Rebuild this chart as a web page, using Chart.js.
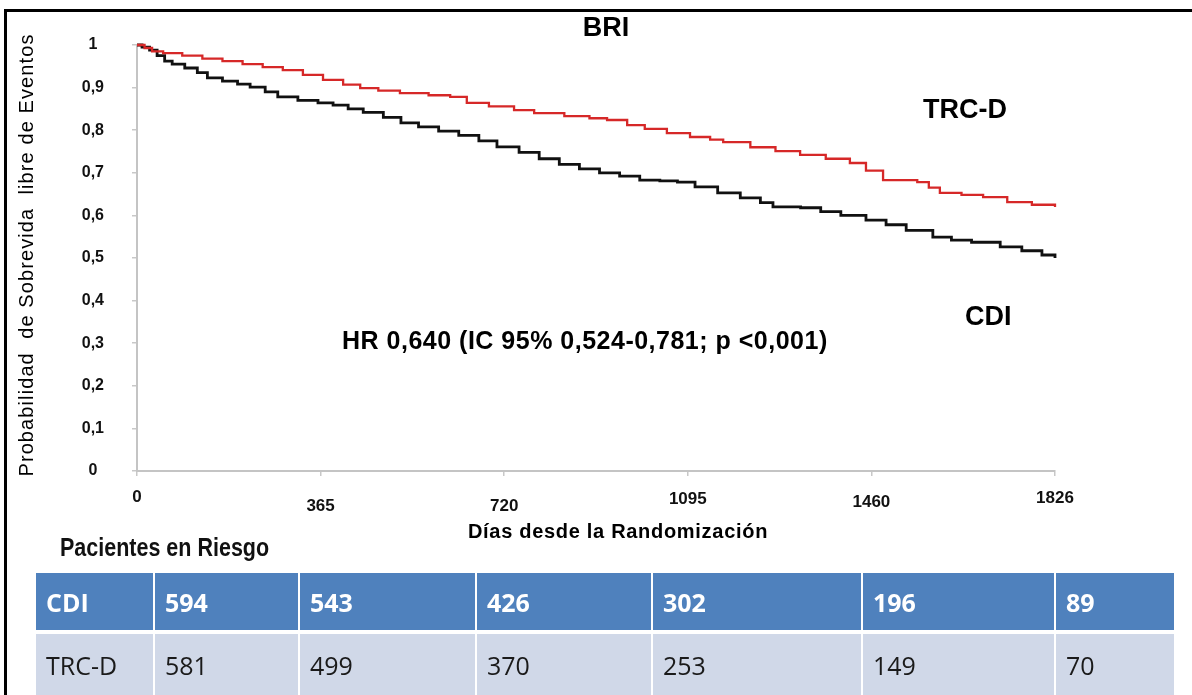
<!DOCTYPE html>
<html>
<head>
<meta charset="utf-8">
<script src="https://cdn.jsdelivr.net/npm/chart.js@4.4.1/dist/chart.umd.min.js"></script>
<style>
  body { margin: 0; background: #fff; }
  #wrap { position: relative; width: 1192px; height: 695px; overflow: hidden; background: #fff; }
  #frame { position: absolute; left: 4px; top: 9px; right: -10px; bottom: -10px;
           border-left: 3px solid #000; border-top: 3px solid #000; }
  #chart { position: absolute; left: 0; top: 0; }
  #riskTitle { position: absolute; left: 60px; top: 533px; font: bold 25px "Liberation Sans", Arial, sans-serif;
               color: #111; transform: scaleX(0.86); transform-origin: left center; white-space: nowrap; }
  #risk { position: absolute; left: 36px; top: 573px; border-collapse: separate; border-spacing: 0;
          font-family: "Open Sans", "Noto Sans", sans-serif; font-size: 25px; table-layout: fixed; }
  #risk td { padding: 0 0 0 10px; border-right: 2px solid #fff; white-space: nowrap; }
  #risk td:last-child { border-right: none; }
  #risk tr.head td { background: #4f81bd; color: #fff; font-weight: bold; height: 57px; border-bottom: 4px solid #fff; }
  #risk tr.body td { background: #d0d8e8; color: #1a1a1a; height: 62px; }
</style>
</head>
<body>
<div id="wrap">
  <canvas id="chart" width="1192" height="560"></canvas>
  <div id="frame"></div>
  <div id="riskTitle">Pacientes en Riesgo</div>
  <table id="risk">
    <colgroup>
      <col style="width:119px"><col style="width:145px"><col style="width:177px"><col style="width:176px">
      <col style="width:210px"><col style="width:193px"><col style="width:118px">
    </colgroup>
    <tbody id="riskBody"></tbody>
  </table>
</div>
<script>
// ====== DATA ======
// Kaplan-Meier, CDI (negro)
const cdiDays = [0, 10, 25, 40, 55, 70, 95, 120, 140, 170, 200, 225, 255, 280, 320, 360, 390, 420, 450, 490,
  525, 560, 600, 640, 680, 716, 760, 800, 840, 880, 920, 960, 1000, 1040, 1075, 1110, 1155, 1200, 1240, 1265,
  1320, 1360, 1400, 1450, 1490, 1530, 1583, 1620, 1660, 1717, 1760, 1800, 1826];
const cdiSurv = [1.000, 0.995, 0.988, 0.975, 0.962, 0.955, 0.946, 0.935, 0.923, 0.915, 0.908, 0.901, 0.890, 0.878, 0.870, 0.864, 0.859, 0.850, 0.842, 0.830,
  0.817, 0.808, 0.798, 0.788, 0.775, 0.761, 0.748, 0.733, 0.720, 0.709, 0.700, 0.692, 0.683, 0.681, 0.678, 0.667, 0.653, 0.641, 0.630, 0.620,
  0.618, 0.609, 0.600, 0.589, 0.578, 0.565, 0.549, 0.542, 0.537, 0.526, 0.517, 0.507, 0.500];

// Kaplan-Meier, TRC-D (rojo)
const trcDays = [0, 15, 30, 52, 90, 130, 170, 210, 250, 290, 330, 370, 410, 444, 480, 523, 580, 623, 656, 700,
  750, 790, 850, 900, 935, 975, 1010, 1054, 1100, 1140, 1166, 1220, 1270, 1319, 1370, 1418, 1450, 1484, 1552,
  1575, 1597, 1640, 1683, 1731, 1780, 1826];
const trcSurv = [1.000, 0.993, 0.985, 0.981, 0.975, 0.968, 0.962, 0.955, 0.948, 0.941, 0.930, 0.918, 0.907, 0.899, 0.893, 0.887, 0.882, 0.878, 0.864, 0.856,
  0.847, 0.840, 0.833, 0.828, 0.824, 0.812, 0.803, 0.793, 0.784, 0.778, 0.772, 0.760, 0.751, 0.742, 0.733, 0.723, 0.705, 0.683, 0.678,
  0.665, 0.653, 0.648, 0.643, 0.631, 0.625, 0.620];

// ejes
const xTickValues = [0, 365.2, 730.4, 1095.6, 1460.8, 1826];
const xTickLabels = ['0', '365', '720', '1095', '1460', '1826'];
const yTickValues = [0, 0.1, 0.2, 0.3, 0.4, 0.5, 0.6, 0.7, 0.8, 0.9, 1];
const yTickLabels = ['0', '0,1', '0,2', '0,3', '0,4', '0,5', '0,6', '0,7', '0,8', '0,9', '1'];

// pacientes en riesgo
const riskGroups = ['CDI', 'TRC-D'];
const riskCDI = [594, 543, 426, 302, 196, 89];
const riskTRC = [581, 499, 370, 253, 149, 70];

// ====== STYLE ======
const FONT = '"Liberation Sans", Arial, sans-serif';
const xTickNudge = [0, 9, 9, 2, 5, 1]; // escalonado de las etiquetas del eje x (px)

// ====== TABLE ======
const riskBody = document.getElementById('riskBody');
[riskCDI, riskTRC].forEach((row, r) => {
  const tr = document.createElement('tr');
  tr.className = r === 0 ? 'head' : 'body';
  tr.innerHTML = `<td>${riskGroups[r]}</td>` + row.map(v => `<td>${v}</td>`).join('');
  riskBody.appendChild(tr);
});

// ====== TEXT PLUGIN ======
const notes = {
  id: 'notes',
  afterDraw(chart) {
    const c = chart.ctx;
    c.save();
    c.fillStyle = '#000';
    c.textBaseline = 'middle';

    c.font = `bold 27px ${FONT}`;
    c.textAlign = 'center';
    c.fillText('BRI', 606, 29);
    c.textAlign = 'left';
    c.fillText('TRC-D', 923, 111);
    c.fillText('CDI', 965, 318);

    c.font = `bold 25px ${FONT}`;
    c.letterSpacing = '0.5px';
    c.fillText('HR 0,640 (IC 95% 0,524-0,781; p <0,001)', 342, 342);

    c.font = `bold 20px ${FONT}`;
    c.letterSpacing = '0.7px';
    c.textAlign = 'center';
    c.fillText('Días desde la Randomización', 618, 532);

    c.translate(27, 255);
    c.rotate(-Math.PI / 2);
    c.font = `20px ${FONT}`;
    c.letterSpacing = '1.1px';
    c.fillText('Probabilidad  de Sobrevida  libre de Eventos', 0, 0);
    c.restore();
  }
};

// ====== CHART ======
const pts = (xs, ys) => xs.map((d, i) => ({ x: d, y: ys[i] }));

new Chart(document.getElementById('chart').getContext('2d'), {
  type: 'line',
  data: {
    datasets: [
      { label: 'TRC-D', data: pts(trcDays, trcSurv), borderColor: '#d62828', borderWidth: 2.3,
        pointRadius: 0, stepped: true, fill: false, clip: 6 },
      { label: 'CDI', data: pts(cdiDays, cdiSurv), borderColor: '#111111', borderWidth: 2.8,
        pointRadius: 0, stepped: true, fill: false, clip: 6 }
    ]
  },
  options: {
    responsive: false,
    animation: false,
    devicePixelRatio: 1,
    layout: { padding: { top: 45, right: 137, left: 0, bottom: 0 } },
    plugins: { legend: { display: false }, tooltip: { enabled: false }, title: { display: false } },
    scales: {
      x: {
        type: 'linear', min: 0, max: 1826,
        afterBuildTicks: s => { s.ticks = xTickValues.map(v => ({ value: v })); },
        afterFit: s => { s.height = 89; },
        grid: { drawOnChartArea: false, drawTicks: true, tickLength: 5, color: '#c8c8c8', lineWidth: 1.5 },
        border: { color: '#c4c4c4', width: 2 },
        ticks: {
          padding: 11, color: '#111', maxRotation: 0, autoSkip: false,
          font: ctx => ({ family: FONT, size: 17, weight: 'bold',
                          lineHeight: (20.4 + 2 * (xTickNudge[ctx.index] || 0)) + 'px' }),
          callback: (v, i) => xTickLabels[i]
        }
      },
      y: {
        min: 0, max: 1,
        afterBuildTicks: s => { s.ticks = yTickValues.map(v => ({ value: v })); },
        afterFit: s => { s.width = 137; },
        grid: { drawOnChartArea: false, drawTicks: true, tickLength: 5, color: '#c8c8c8', lineWidth: 1.5 },
        border: { color: '#c4c4c4', width: 2 },
        ticks: {
          padding: 28, crossAlign: 'center', color: '#111',
          font: { family: FONT, size: 16, weight: 'bold' },
          callback: (v, i) => yTickLabels[i]
        }
      }
    }
  },
  plugins: [notes]
});
</script>
</body>
</html>
